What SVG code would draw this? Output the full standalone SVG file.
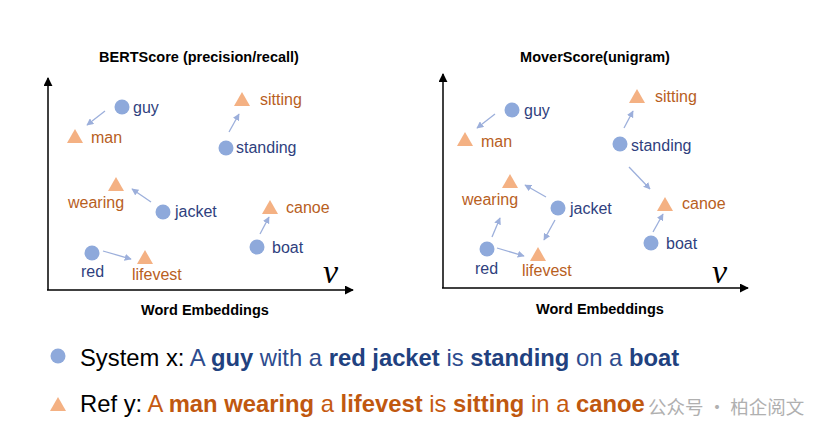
<svg xmlns="http://www.w3.org/2000/svg" xmlns:xlink="http://www.w3.org/1999/xlink" width="828" height="441" viewBox="0 0 828 441">
<style>
.title{font-family:"Liberation Sans",Arial,sans-serif;font-weight:bold;font-size:14.5px;fill:#000;text-anchor:middle}
.lb{font-family:"Liberation Sans",Arial,sans-serif;font-size:16px;fill:#2F3F7E}
.lo{font-family:"Liberation Sans",Arial,sans-serif;font-size:16px;fill:#B8601E}
.axis{stroke:#000;stroke-width:1.5;fill:none}
.dot{fill:#8EA9DB}
.tri{fill:#F4B183}
.con{stroke:#9CAFDB;stroke-width:1.3;fill:none;marker-end:url(#ah)}
.v{font-family:"Liberation Serif","Times New Roman",serif;font-style:italic;font-size:34px;fill:#000}
.leg{font-family:"Liberation Sans",Arial,sans-serif;font-size:23.8px}
.k{fill:#000}
.b{fill:#2E4C8E}
.bb{fill:#21417F;font-weight:bold}
.o{fill:#C55A11}
.ob{fill:#C0580F;font-weight:bold}
.wm{font-family:"Noto Sans CJK SC",sans-serif;font-size:18.5px;fill:#B0B0B0}
</style>
<defs>
<marker id="ah" viewBox="0 0 10 10" refX="9" refY="5" markerWidth="7" markerHeight="7" markerUnits="userSpaceOnUse" orient="auto">
<path d="M0,0 L10,5 L0,10 Z" fill="#9CAFDB"/>
</marker>
<marker id="ax" viewBox="0 0 10 10" refX="9" refY="5" markerWidth="9" markerHeight="9" markerUnits="userSpaceOnUse" orient="auto">
<path d="M0,0 L10,5 L0,10 Z" fill="#000"/>
</marker>
<path id="tr" d="M0,-8 L8,6 L-8,6 Z"/>
</defs>
<rect width="828" height="441" fill="#fff"/>

<!-- Left panel -->
<g id="left-panel">
<text class="title" x="199" y="62">BERTScore (precision/recall)</text>
<line class="axis" x1="48" y1="290" x2="48" y2="78" marker-end="url(#ax)"/>
<line class="axis" x1="47" y1="290" x2="353" y2="290" marker-end="url(#ax)"/>
<text class="v" x="323" y="283">v</text>
<text class="title" x="205" y="315">Word Embeddings</text>
</g>
<g id="L-guy"><circle class="dot" cx="122" cy="107" r="7.5"/><text class="lb" x="133" y="113">guy</text></g>
<g id="L-man"><use href="#tr" class="tri" x="75" y="137"/><text class="lo" x="91" y="143">man</text></g>
<g id="L-sitting"><use href="#tr" class="tri" x="242" y="100"/><text class="lo" x="260" y="105">sitting</text></g>
<g id="L-standing"><circle class="dot" cx="226" cy="148" r="7.5"/><text class="lb" x="236" y="153">standing</text></g>
<g id="L-wearing"><use href="#tr" class="tri" x="116" y="185"/><text class="lo" x="68" y="208">wearing</text></g>
<g id="L-jacket"><circle class="dot" cx="163" cy="212" r="7.5"/><text class="lb" x="175" y="217">jacket</text></g>
<g id="L-red"><circle class="dot" cx="92" cy="253" r="7.5"/><text class="lb" x="81" y="277">red</text></g>
<g id="L-lifevest"><use href="#tr" class="tri" x="145" y="258"/><text class="lo" x="132" y="280">lifevest</text></g>
<g id="L-canoe"><use href="#tr" class="tri" x="270" y="208"/><text class="lo" x="286" y="213">canoe</text></g>
<g id="L-boat"><circle class="dot" cx="257" cy="247" r="7.5"/><text class="lb" x="272" y="253">boat</text></g>

<!-- Right panel -->
<g id="right-panel">
<text class="title" x="595" y="62">MoverScore(unigram)</text>
<line class="axis" x1="443" y1="288" x2="443" y2="74" marker-end="url(#ax)"/>
<line class="axis" x1="442" y1="288" x2="748" y2="288" marker-end="url(#ax)"/>
<text class="v" x="712" y="283">v</text>
<text class="title" x="600" y="314">Word Embeddings</text>
</g>
<g id="R-guy"><circle class="dot" cx="512" cy="110" r="7.5"/><text class="lb" x="524" y="116">guy</text></g>
<g id="R-man"><use href="#tr" class="tri" x="465" y="140"/><text class="lo" x="481" y="147">man</text></g>
<g id="R-sitting"><use href="#tr" class="tri" x="637" y="97"/><text class="lo" x="655" y="102">sitting</text></g>
<g id="R-standing"><circle class="dot" cx="620" cy="144" r="7.5"/><text class="lb" x="631" y="151">standing</text></g>
<g id="R-wearing"><use href="#tr" class="tri" x="510" y="182"/><text class="lo" x="462" y="205">wearing</text></g>
<g id="R-jacket"><circle class="dot" cx="558" cy="208" r="7.5"/><text class="lb" x="570" y="214">jacket</text></g>
<g id="R-red"><circle class="dot" cx="487" cy="249" r="7.5"/><text class="lb" x="475" y="274">red</text></g>
<g id="R-lifevest"><use href="#tr" class="tri" x="538" y="255"/><text class="lo" x="522" y="276">lifevest</text></g>
<g id="R-canoe"><use href="#tr" class="tri" x="665" y="205"/><text class="lo" x="682" y="209">canoe</text></g>
<g id="R-boat"><circle class="dot" cx="651" cy="243" r="7.5"/><text class="lb" x="666" y="249">boat</text></g>

<!-- Connectors -->
<g id="connectors">
<line class="con" x1="105" y1="111" x2="87" y2="125"/>
<line class="con" x1="229" y1="132" x2="239" y2="114"/>
<line class="con" x1="151" y1="202" x2="132" y2="189"/>
<line class="con" x1="103" y1="251" x2="131" y2="259"/>
<line class="con" x1="260" y1="234" x2="269" y2="217"/>

<line class="con" x1="495" y1="114" x2="477" y2="128"/>
<line class="con" x1="624" y1="128" x2="633" y2="111"/>
<line class="con" x1="629" y1="167" x2="650" y2="189"/>
<line class="con" x1="546" y1="197" x2="525" y2="185"/>
<line class="con" x1="555" y1="220" x2="544" y2="240"/>
<line class="con" x1="492" y1="237" x2="500" y2="218"/>
<line class="con" x1="497" y1="248" x2="524" y2="256"/>
<line class="con" x1="653" y1="232" x2="663" y2="214"/>
</g>

<!-- Legend -->
<g id="legend-system">
<circle class="dot" cx="58" cy="356" r="7.5"/>
<text class="leg" x="80" y="366"><tspan class="k">System x: </tspan><tspan class="b">A </tspan><tspan class="bb">guy</tspan><tspan class="b"> with a </tspan><tspan class="bb">red jacket</tspan><tspan class="b"> is </tspan><tspan class="bb">standing</tspan><tspan class="b"> on a </tspan><tspan class="bb">boat</tspan></text>
</g>
<g id="legend-ref">
<use href="#tr" class="tri" x="58" y="405"/>
<text class="leg" x="80" y="412"><tspan class="k">Ref y: </tspan><tspan class="o">A </tspan><tspan class="ob">man wearing</tspan><tspan class="o"> a </tspan><tspan class="ob">lifevest</tspan><tspan class="o"> is </tspan><tspan class="ob">sitting</tspan><tspan class="o"> in a </tspan><tspan class="ob">canoe</tspan></text>
</g>
<text class="wm" x="648" y="414">公众号 · 柏企阅文</text>
</svg>
